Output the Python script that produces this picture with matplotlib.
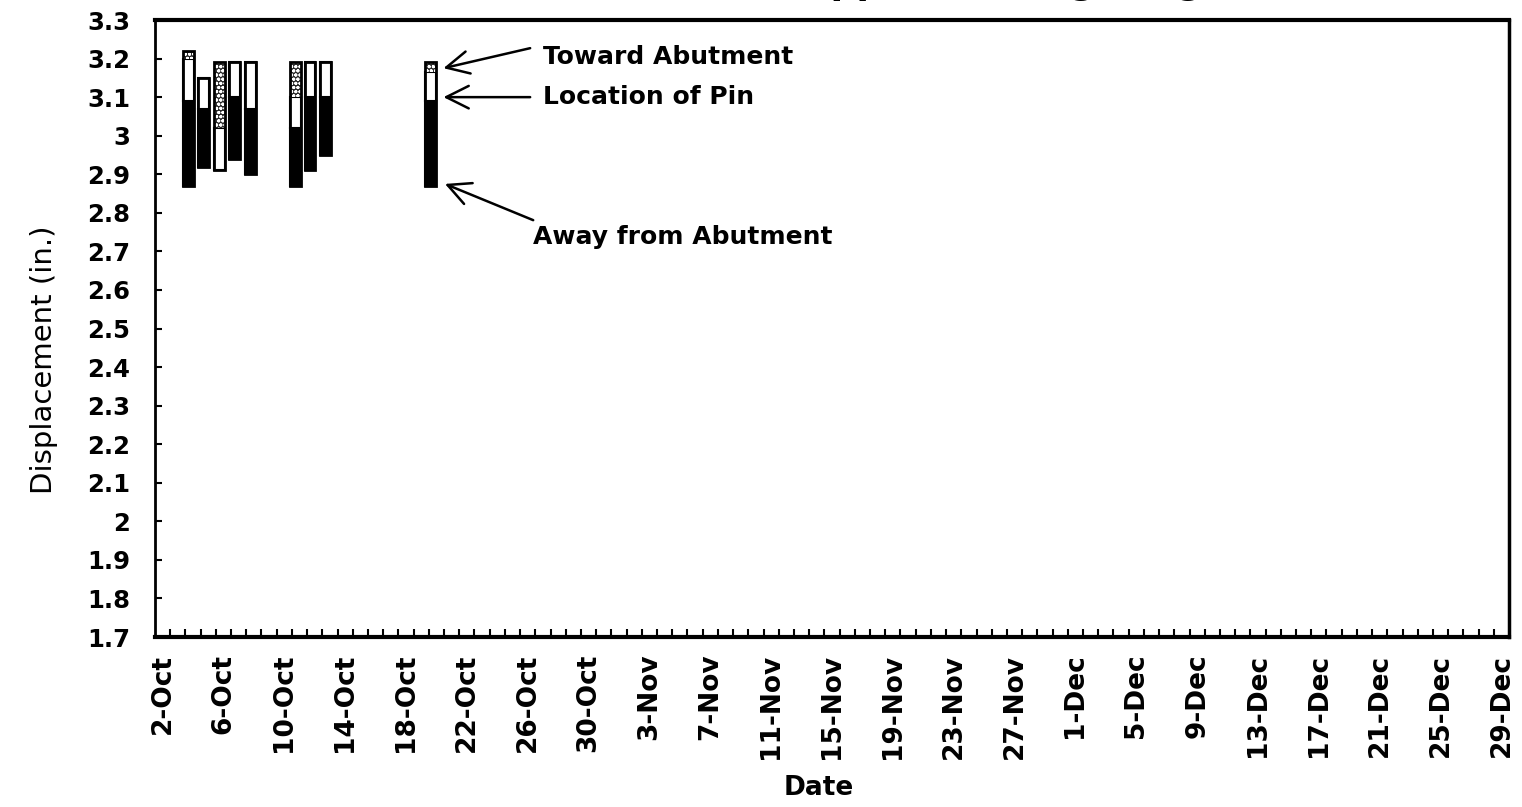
import matplotlib
matplotlib.use('Agg')
import matplotlib.pyplot as plt
import matplotlib.dates as mdates
from datetime import datetime
import numpy as np

# readings of the pin position (date/time of each survey)
reading_times = ['1996-10-03 17:40', '1996-10-04 16:30', '1996-10-05 17:45',
                 '1996-10-06 18:15', '1996-10-07 18:40', '1996-10-10 18:00',
                 '1996-10-11 16:35', '1996-10-12 16:20', '1996-10-19 14:40']

# displacement values (in.) for each reading
away_end   = [2.87, 2.92, 2.91, 2.94, 2.90, 2.87, 2.91, 2.95, 2.87]   # away from abutment
pin_loc    = [3.09, 3.07, 2.91, 3.10, 3.07, 3.02, 3.10, 3.10, 3.09]   # location of pin
pin_upper  = [3.20, 3.15, 3.02, 3.19, 3.19, 3.10, 3.19, 3.19, 3.165]
toward_end = [3.22, 3.15, 3.19, 3.19, 3.19, 3.19, 3.19, 3.19, 3.19]   # toward abutment

tick_labels = ['2-Oct', '6-Oct', '10-Oct', '14-Oct', '18-Oct', '22-Oct', '26-Oct',
               '30-Oct', '3-Nov', '7-Nov', '11-Nov', '15-Nov', '19-Nov', '23-Nov',
               '27-Nov', '1-Dec', '5-Dec', '9-Dec', '13-Dec', '17-Dec', '21-Dec',
               '25-Dec', '29-Dec']
year = 1996

x = mdates.date2num([datetime.strptime(t, '%Y-%m-%d %H:%M') for t in reading_times])
away_end = np.array(away_end)
pin_loc = np.array(pin_loc)
pin_upper = np.array(pin_upper)
toward_end = np.array(toward_end)

tick_pos = mdates.date2num([datetime.strptime(f'{t}-{year}', '%d-%b-%Y') for t in tick_labels])

fig = plt.figure(figsize=(15.22, 8.07), dpi=100)
ax = fig.add_axes([0.1018, 0.2106, 0.8897, 0.7646])

w = 0.72
ax.bar(x, pin_loc - away_end, bottom=away_end, width=w, color='black', edgecolor='black', lw=1.5)
ax.bar(x, pin_upper - pin_loc, bottom=pin_loc, width=w, color='white', edgecolor='black', lw=1.5)
ax.bar(x, toward_end - pin_upper, bottom=pin_upper, width=w, color='#2a2a2a',
       edgecolor='white', hatch='oooo', lw=0)
ax.bar(x, toward_end - away_end, bottom=away_end, width=w, fill=False, edgecolor='black', lw=2)

ax.set_xlim(tick_pos[0] - 0.5, tick_pos[-1] + 0.5)
ax.set_ylim(1.7, 3.3)

ax.set_xticks(tick_pos)
ax.set_xticklabels(tick_labels, rotation=90)
ax.set_xticks(np.arange(tick_pos[0] + 0.5, tick_pos[-1], 1.0), minor=True)
yt = np.arange(17, 34) / 10
ax.set_yticks(yt)
ax.set_yticklabels([f'{v:g}' for v in yt])

ax.tick_params(axis='x', which='major', length=0, pad=12, labelsize=19)
ax.tick_params(axis='x', which='minor', direction='in', length=6, width=1.5)
ax.tick_params(axis='y', which='major', direction='in', length=5, width=1.5,
               pad=18, labelsize=17.5)
for lbl in ax.get_xticklabels() + ax.get_yticklabels():
    lbl.set_fontweight('bold')

for side, lw in [('top', 3), ('bottom', 3), ('right', 2.5), ('left', 2)]:
    ax.spines[side].set_linewidth(lw)

ax.set_xlabel('Date', fontsize=19, fontweight='bold')
ax.xaxis.set_label_coords(0.49, -0.245)
ax.xaxis.label.set_va('center')
ax.set_ylabel('Displacement (in.)', fontsize=21)
ax.yaxis.set_label_coords(-0.082, 0.45)
ax.yaxis.label.set_va('center')

# callouts on the last reading
xl = x[-1]
arrow = dict(arrowstyle='->, head_length=0.9, head_width=0.45', lw=1.8,
             color='black', mutation_scale=18, shrinkA=0, shrinkB=0)
ax.annotate('', xy=(xl + 0.85, toward_end[-1] - 0.015), xytext=(xl + 6.55, 3.227),
            arrowprops=arrow)
ax.text(xl + 7.4, 3.203, 'Toward Abutment', fontsize=18, fontweight='bold', va='center')
ax.annotate('', xy=(xl + 0.85, pin_loc[-1] + 0.01), xytext=(xl + 6.55, pin_loc[-1] + 0.01),
            arrowprops=arrow)
ax.text(xl + 7.4, pin_loc[-1] + 0.01, 'Location of Pin', fontsize=18, fontweight='bold',
        va='center')
ax.annotate('', xy=(xl + 0.95, away_end[-1] + 0.005), xytext=(xl + 6.75, 2.781),
            arrowprops=arrow)
ax.text(xl + 6.75, 2.737, 'Away from Abutment', fontsize=18, fontweight='bold', va='center')

# chart title sits above the top edge of the sheet, only its descenders show
fig.text(0.806, 1.008, 'Pin Movement at Upper Bearing Hinge', ha='right', va='baseline',
         fontsize=26, fontweight='bold')

fig.savefig('out.png', dpi=100)
